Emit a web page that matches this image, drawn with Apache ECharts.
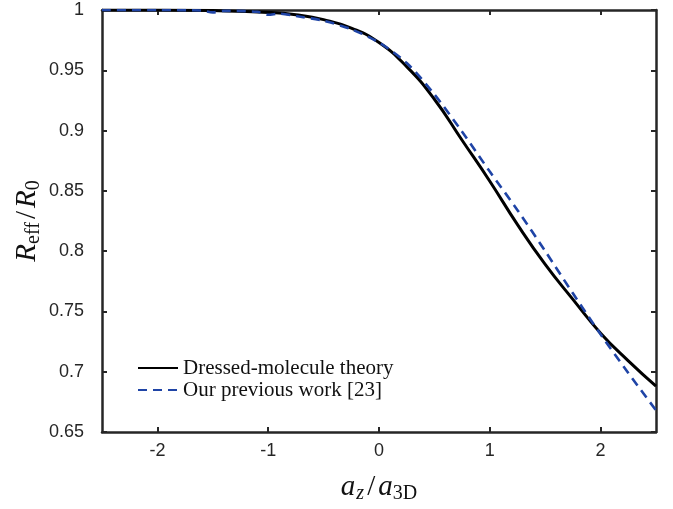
<!DOCTYPE html>
<html>
<head>
<meta charset="utf-8">
<title>R_eff / R_0</title>
<script src="https://cdn.jsdelivr.net/npm/echarts@6/dist/echarts.min.js"></script>
<style>
  html, body { margin: 0; padding: 0; background: #fff; }
  #main { width: 673px; height: 509px; }
</style>
</head>
<body>
<div id="main"></div>
<script>
// 数据
var xTicks = [-2, -1, 0, 1, 2];
var yTicks = [0.65, 0.7, 0.75, 0.8, 0.85, 0.9, 0.95, 1];

var dressedX = [-2.5, -2, -1.5, -1, -0.75, -0.5, -0.25, 0, 0.25, 0.5, 0.75, 1, 1.25, 1.5, 1.75, 2, 2.25, 2.5];
var dressedY = [1.0, 1.0, 0.9995, 0.998, 0.996, 0.992, 0.985, 0.973, 0.953, 0.926, 0.892, 0.858, 0.822, 0.789, 0.760, 0.732, 0.709, 0.688];

var prevX = [-2.5, -2, -1.6, -1.5, -1.4, -1.1, -1, -0.9, -0.75, -0.5, -0.25, 0, 0.25, 0.5, 0.75, 1, 1.25, 1.5, 1.75, 2, 2.25, 2.5];
var prevY = [1.0, 1.0, 0.9995, 0.998, 0.9993, 0.9985, 0.996, 0.997, 0.995, 0.991, 0.984, 0.973, 0.956, 0.930, 0.899, 0.866, 0.834, 0.800, 0.765, 0.731, 0.699, 0.668];

var names = ['Dressed-molecule theory', 'Our previous work [23]'];

function pairs(xs, ys) {
  return xs.map(function (x, i) { return [x, ys[i]]; });
}

var frameColor = '#262626';
var myChart = echarts.init(document.getElementById('main'));

var nameRich = {
  i: { fontFamily: 'Liberation Serif', fontStyle: 'italic', fontSize: 29, color: '#111' },
  n: { fontFamily: 'Liberation Serif', fontSize: 29, color: '#111', padding: [0, 3, 0, 3] },
  sub: { fontFamily: 'Liberation Serif', fontSize: 20, color: '#111', padding: [14, 0, 0, 0] },
  subi: { fontFamily: 'Liberation Serif', fontStyle: 'italic', fontSize: 20, color: '#111', padding: [14, 0, 0, 1] }
};

var baseX = {
  type: 'value', min: -2.5, max: 2.5,
  axisLine: { show: true, onZero: false, lineStyle: { color: frameColor, width: 2.5 } },
  axisTick: { show: true, inside: true, length: 5, customValues: xTicks, lineStyle: { color: frameColor, width: 2 } },
  splitLine: { show: false }
};
var baseY = {
  type: 'value', min: 0.65, max: 1,
  axisLine: { show: true, onZero: false, lineStyle: { color: frameColor, width: 2.5 } },
  axisTick: { show: true, inside: true, length: 5, customValues: yTicks, lineStyle: { color: frameColor, width: 2 } },
  splitLine: { show: false }
};

var option = {
  animation: false,
  backgroundColor: '#fff',
  grid: { left: 102, right: 17, top: 10, bottom: 77, containLabel: false, outerBoundsMode: 'none' },
  legend: {
    orient: 'vertical',
    left: 132,
    top: 352,
    itemWidth: 40,
    itemHeight: 12,
    itemGap: 0,
    data: names,
    itemStyle: { opacity: 0 },
    textStyle: { fontFamily: 'Liberation Serif', fontSize: 21, color: '#111', lineHeight: 22 }
  },
  xAxis: [
    Object.assign({}, baseX, {
      position: 'bottom',
      axisLabel: {
        customValues: xTicks, margin: 10, color: frameColor,
        fontFamily: 'Liberation Sans', fontSize: 18,
        formatter: function (v) { return String(v); }
      },
      name: '{i|a}{subi|z}{n|/}{i|a}{sub|3D}',
      nameLocation: 'middle',
      nameMoveOverlap: false,
      nameGap: 38,
      nameTextStyle: { rich: nameRich }
    }),
    Object.assign({}, baseX, { position: 'top', axisLabel: { show: false } })
  ],
  yAxis: [
    Object.assign({}, baseY, {
      position: 'left',
      axisLabel: {
        customValues: yTicks, margin: 18, color: frameColor,
        fontFamily: 'Liberation Sans', fontSize: 18,
        formatter: function (v) { return String(Math.round(v * 100) / 100); }
      },
      name: '{i|R}{sub|eff}{n|/}{i|R}{sub|0}',
      nameLocation: 'middle',
      nameMoveOverlap: false,
      nameRotate: 90,
      nameGap: 58,
      nameTextStyle: { rich: nameRich }
    }),
    Object.assign({}, baseY, { position: 'right', axisLabel: { show: false } })
  ],
  series: [
    {
      name: names[0],
      type: 'line',
      smooth: 0.5,
      showSymbol: false,
      symbol: 'none',
      lineStyle: { color: '#000', width: 3 },
      itemStyle: { color: '#000' },
      data: pairs(dressedX, dressedY),
      z: 3
    },
    {
      name: names[1],
      type: 'line',
      smooth: 0.3,
      showSymbol: false,
      symbol: 'none',
      lineStyle: { color: '#1f44a6', width: 2.6, type: [9, 6] },
      itemStyle: { color: '#1f44a6' },
      data: pairs(prevX, prevY),
      z: 4
    }
  ]
};

myChart.setOption(option);
</script>
</body>
</html>
